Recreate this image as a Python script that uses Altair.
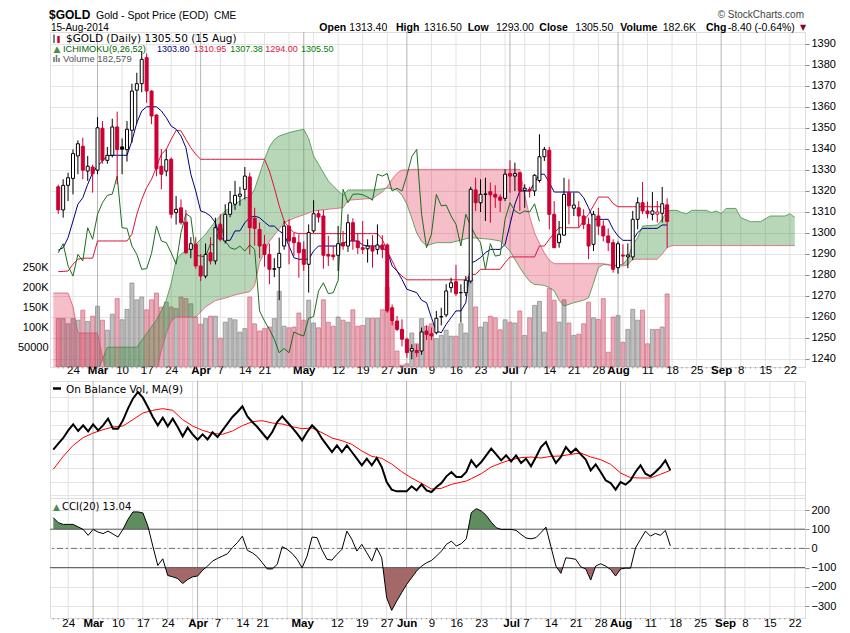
import json
import altair as alt
import pandas as pd

# ------------------------------------------------------------------ data
# trading days Feb 19 2014 (day 0) ... Aug 15 2014 (day 124); future days for the cloud up to day 150
opens = [1322, 1311, 1322.7, 1326, 1336.7, 1341.3, 1329.5, 1331.4, 1329.9, 1349.9,
         1334.6, 1337, 1350.5, 1341, 1339.7, 1348.9, 1368, 1371.1, 1383.5, 1367.6,
         1356.2, 1331.8, 1329.5, 1335.1, 1309.7, 1312, 1305.2, 1292.2, 1294.6, 1284.3,
         1279.5, 1290.6, 1286.7, 1304.1, 1296.2, 1308.9, 1313.7, 1317.5, 1320.8, 1326.7,
         1307, 1301.7, 1294.6, 1289.8, 1282.7, 1283.5, 1293.8, 1303.3, 1297.8, 1295.4,
         1292.2, 1285.1, 1301, 1309.2, 1308.1, 1289.8, 1289.5, 1289.4, 1295.4, 1293.8,
         1304.9, 1296.2, 1293, 1292.5, 1293.8, 1292.2, 1294.3, 1294.3, 1264.4, 1258.1,
         1254.1, 1249.4, 1243.8, 1244.1, 1243.8, 1253.3, 1252, 1252.5, 1260, 1261,
         1274, 1276.8, 1271.6, 1271.6, 1277.1, 1320.5, 1314.4, 1318.4, 1319.7, 1318.4,
         1317.1, 1316.5, 1328.3, 1327.1, 1328.7, 1320.3, 1320.8, 1320, 1325, 1336.3,
         1339.4, 1308.9, 1295.4, 1299, 1319.2, 1311.8, 1312, 1308.1, 1304.1, 1294.6,
         1308.1, 1303.3, 1298.6, 1295.4, 1283.5, 1289.5, 1288.6, 1288.6, 1306.5, 1314.4,
         1310.5, 1308.9, 1309, 1309.4, 1313.4]
highs = [1323, 1325.6, 1328.7, 1339.8, 1344.1, 1345.4, 1336.7, 1332.5, 1355.2, 1353.3,
         1341, 1354.4, 1357.8, 1345, 1353.3, 1371.1, 1376.3, 1386.7, 1385.5, 1368,
         1356.5, 1340, 1339.8, 1336, 1317.6, 1316, 1311, 1298, 1298, 1290,
         1295, 1298, 1307.3, 1309, 1313.7, 1320, 1324.8, 1322, 1331.4, 1328.7,
         1312, 1305, 1299, 1295, 1288, 1297.8, 1305.7, 1306.5, 1300, 1299.4,
         1296, 1304.1, 1315.6, 1311, 1311, 1298.6, 1294, 1303.3, 1301, 1308.9,
         1307, 1300, 1305.7, 1297, 1299, 1304.1, 1299, 1295, 1266, 1260.5,
         1258.9, 1250.2, 1247, 1247, 1255, 1256, 1255, 1262.9, 1264.4, 1275.6,
         1278.7, 1284.8, 1275.6, 1279.5, 1322, 1326.3, 1325.6, 1326.3, 1324, 1322.7,
         1318.4, 1330.3, 1334.6, 1333.5, 1328.7, 1323.2, 1322, 1328, 1347, 1341,
         1341, 1315.2, 1305.7, 1326.3, 1325.6, 1319.2, 1315.2, 1311.3, 1307.3, 1310.5,
         1312, 1306, 1302.2, 1297, 1296, 1294.6, 1295, 1310.5, 1317, 1324.3,
         1315, 1319.5, 1315.2, 1321.9, 1316.5]
lows = [1309, 1307.3, 1315.2, 1318.4, 1328, 1325.6, 1324.8, 1319.2, 1328, 1333,
        1333, 1336, 1323.2, 1328, 1334, 1343, 1352, 1367, 1362, 1351.8,
        1327, 1320.8, 1327, 1307, 1304, 1304, 1290, 1288, 1283, 1277.1,
        1278.4, 1285, 1285, 1296, 1295, 1307.5, 1311, 1313, 1316, 1289.8,
        1294, 1288, 1284, 1275.6, 1279, 1268, 1292, 1285.1, 1289, 1278.7,
        1282, 1271.6, 1300, 1305, 1283, 1284.3, 1287, 1281.9, 1292, 1291,
        1292, 1290, 1290, 1285.9, 1283.5, 1289.8, 1288, 1262, 1256, 1253.3,
        1246, 1240.6, 1239.9, 1241, 1242, 1249, 1249, 1251.7, 1256, 1260,
        1271.6, 1270, 1257.3, 1270, 1276, 1310.5, 1310, 1305.7, 1304.9, 1312,
        1310, 1315.2, 1319.2, 1320, 1310.5, 1312, 1316.9, 1317.6, 1324, 1334.3,
        1301.8, 1293, 1293, 1298.6, 1304.1, 1308.1, 1302.5, 1301.8, 1287.5, 1291.4,
        1299, 1296, 1291.4, 1281.1, 1280.6, 1285, 1283.2, 1287, 1301.8, 1309,
        1307, 1306, 1305, 1305, 1293]
closes = [1311, 1322.7, 1326.3, 1337.8, 1342.5, 1329.9, 1331.8, 1328.2, 1350.1, 1334.6,
          1337, 1350.5, 1339.7, 1339.9, 1349.4, 1367.6, 1371.1, 1382.7, 1367.6, 1355.7,
          1330.6, 1328, 1334.9, 1308.9, 1311.3, 1304.9, 1290.6, 1294.9, 1284.3, 1279.5,
          1289.8, 1286.7, 1302.5, 1297, 1308.9, 1314.4, 1317.9, 1318.5, 1327.1, 1302.5,
          1302.2, 1293.8, 1289.8, 1282.7, 1283, 1290.3, 1303.3, 1296.2, 1295.4, 1290.6,
          1285.1, 1300.2, 1309.2, 1307.6, 1289.4, 1289, 1288.7, 1294.9, 1293.8, 1304.9,
          1296.2, 1293, 1292.2, 1293.8, 1291.4, 1294.3, 1292.2, 1262.9, 1258.1, 1254.1,
          1249.4, 1243, 1245, 1243, 1252.9, 1251.7, 1251, 1259.4, 1260.2, 1272.4,
          1276.3, 1271.1, 1271.6, 1277.5, 1320.8, 1314.4, 1318.4, 1318.6, 1318.2, 1317.1,
          1315.6, 1328, 1327.1, 1328.3, 1320, 1321.3, 1320, 1327.5, 1336.3, 1339.8,
          1308.9, 1293, 1299.4, 1318.4, 1312.9, 1313.3, 1308.1, 1304.1, 1293.8, 1308.9,
          1303.3, 1298.6, 1295.4, 1282.7, 1294.9, 1289, 1289.5, 1306.5, 1314.4, 1310.5,
          1309.2, 1310.5, 1310, 1313.9, 1305.5]
volumes_k = [121, 121, 108, 121, 117, 142, 114, 127, 152, 117,
             92, 132, 171, 118, 144, 210, 168, 175, 143, 168,
             185, 150, 162, 150, 146, 175, 171, 158, 125, 107,
             121, 127, 127, 72, 112, 121, 118, 87, 96, 175,
             108, 90, 96, 100, 121, 189, 102, 98, 100, 135,
             117, 167, 110, 98, 168, 112, 102, 125, 117, 112,
             143, 102, 104, 122, 122, 122, 143, 200, 112, 40,
             5, 8, 85, 58, 121, 102, 108, 71, 79, 92,
             77, 77, 108, 85, 221, 150, 100, 112, 127, 123,
             93, 118, 112, 110, 140, 79, 123, 154, 164, 87,
             196, 167, 112, 168, 110, 79, 82, 108, 162, 123,
             119, 171, 37, 125, 129, 62, 94, 144, 117, 142,
             58, 94, 94, 100, 182.6]
tenkan = [1291.8, 1293, 1297.8, 1305.7, 1313.7, 1316.8, 1323.2, 1328.7, 1331.9, 1334.3,
          1336.7, 1337, 1337, 1337, 1337, 1343.8, 1352.5, 1358.1, 1360.1, 1360.1,
          1360.1, 1358.1, 1354.9, 1350.9, 1349.4, 1346.2, 1340.6, 1328, 1320, 1310.5,
          1309.7, 1308.1, 1304.9, 1297.8, 1296.5, 1296.5, 1301, 1301, 1304.9, 1307.3,
          1308, 1307.3, 1305.2, 1303.3, 1303.3, 1301, 1299.4, 1293.8, 1288.2, 1287.5,
          1287.5, 1287.5, 1291.4, 1293.8, 1293.8, 1293.8, 1293.8, 1293.8, 1295, 1296.2,
          1296.2, 1296.2, 1294.3, 1293.8, 1293.8, 1293.8, 1293, 1291.4, 1284.3, 1281.9,
          1277.9, 1273.2, 1272.4, 1271.6, 1268, 1266.8, 1259.7, 1253.3, 1252.5, 1256.5,
          1259.7, 1262.9, 1262.9, 1266.8, 1285.6, 1286.7, 1288.3, 1290.6, 1292.2, 1292.2,
          1292.2, 1294.6, 1304.1, 1313.7, 1320, 1320, 1320, 1324, 1328, 1328,
          1324, 1319.5, 1319.5, 1319.5, 1319.5, 1319.5, 1319.5, 1316.8, 1312, 1306.5,
          1306.5, 1306.5, 1306.5, 1301.8, 1298.6, 1296.5, 1296.5, 1296.5, 1300.2, 1302.2,
          1302.2, 1302.2, 1302.2, 1303.8, 1303.8]
kijun = [1281.6, 1281.7, 1281.9, 1285.1, 1287.5, 1288, 1288, 1288, 1296.2, 1296.2,
         1296.2, 1296.2, 1296.2, 1296.2, 1296.2, 1299.4, 1308.9, 1316, 1321.6, 1325.6,
         1331.4, 1337.5, 1339.8, 1344.6, 1348.9, 1348.6, 1344.6, 1340.6, 1337.5, 1335.1,
         1335.1, 1335.1, 1335.1, 1335.1, 1335.1, 1335.1, 1335.1, 1335.1, 1335.1, 1335.1,
         1335.1, 1335.1, 1335.1, 1329.5, 1321.6, 1312.9, 1305.7, 1302.5, 1300.2, 1299.7,
         1299.7, 1299.7, 1299.7, 1299.7, 1299.7, 1299.7, 1299.7, 1299.7, 1299.7, 1299.7,
         1299.7, 1299.7, 1299.7, 1299.7, 1299.7, 1299.7, 1297, 1291.4, 1286.7, 1281.9,
         1279.5, 1277.7, 1277.7, 1277.7, 1277.7, 1277.7, 1277.7, 1277.7, 1277.7, 1277.7,
         1277.7, 1277.7, 1277.7, 1277.7, 1280.3, 1280.3, 1282.7, 1282.7, 1282.7, 1282.7,
         1282.7, 1285.9, 1288.6, 1288.6, 1288.6, 1288.6, 1288.6, 1288.6, 1293.8, 1293.8,
         1297, 1300, 1302.5, 1302.5, 1302.5, 1302.5, 1302.5, 1305.7, 1308.9, 1313,
         1317.1, 1317.1, 1317.1, 1314, 1312.5, 1312.5, 1312.5, 1312.5, 1312.5, 1312.5,
         1312.5, 1312.5, 1312.5, 1312.5, 1311]
cloud_day = [-1, 2, 3, 4, 8, 10, 16, 18, 20, 21,
             22, 23, 24, 25, 28, 30, 32, 34, 36, 38,
             39, 40, 41, 42, 43, 44, 45, 46, 47, 48,
             50, 51, 52, 55, 57, 58, 59, 64, 66, 67,
             68, 69, 70, 71, 72, 73, 74, 75, 77, 80,
             84, 88, 90, 92, 94, 95, 96, 97, 98, 99,
             100, 101, 102, 103, 105, 107, 108, 109, 110, 111,
             112, 113, 115, 116, 117, 118, 119, 122, 123, 124,
             125, 126, 127, 128, 129, 132, 133, 134, 135, 136,
             138, 139, 141, 143, 145, 148, 149, 150]
span_a = [1226, 1228, 1229, 1230, 1234, 1245.6, 1245.6, 1252.2, 1258.6, 1263,
          1268, 1276, 1287.1, 1290, 1294.6, 1299.4, 1305.7, 1310.5, 1313.7, 1316.8,
          1317, 1321, 1328, 1335, 1341, 1344.5, 1346.2, 1347, 1347.8, 1348.4,
          1349.4, 1345, 1336.7, 1324.8, 1320, 1318, 1320.5, 1320.5, 1321, 1321.5,
          1321, 1320.5, 1318, 1313.7, 1307, 1300, 1296, 1294, 1295.4, 1295.4,
          1297.8, 1297, 1296.2, 1291.4, 1283.5, 1280, 1277, 1275.5, 1275.3, 1275,
          1274, 1272.5, 1268, 1265.2, 1266.8, 1268, 1269.2, 1276, 1283.5, 1285,
          1284.8, 1284.6, 1285, 1287.9, 1294.6, 1297.8, 1303.3, 1303.8, 1306.5, 1310.5,
          1310.8, 1310.8, 1309.7, 1309.2, 1310.8, 1310.8, 1309.7, 1310.5, 1309.2, 1311.7,
          1311.7, 1307.3, 1305.4, 1305.4, 1308.1, 1308.1, 1309.2, 1307.4]
span_b = [1271.4, 1271.4, 1265, 1252.4, 1252.4, 1230, 1230, 1231, 1234, 1244,
          1252, 1258, 1259.9, 1259.9, 1259.9, 1264.8, 1267.8, 1269, 1270.5, 1271.6,
          1272, 1275, 1286, 1291, 1296, 1299, 1302, 1304.9, 1306, 1307,
          1308.7, 1309.5, 1310.5, 1311.3, 1311.8, 1312, 1315.6, 1316.5, 1319.5, 1322,
          1325.6, 1328.5, 1330, 1330, 1330.3, 1330.3, 1330.3, 1330.3, 1330.3, 1330.3,
          1330.3, 1330.3, 1330.3, 1330.3, 1330.3, 1318, 1308, 1300, 1295, 1290.5,
          1287, 1285.4, 1285.4, 1285.4, 1285.4, 1285.4, 1285.4, 1285.4, 1285.4, 1285.4,
          1285, 1284.3, 1284.3, 1284.8, 1287.5, 1287.5, 1287.5, 1287.5, 1290, 1293,
          1294, 1294, 1294, 1294, 1294, 1294, 1294, 1294, 1294, 1294,
          1294, 1294, 1294, 1294, 1294, 1294, 1294, 1294]
obv = [994, 1120, 1239, 1400, 1526, 1386, 1505, 1379, 1526, 1400,
       1505, 1645, 1435, 1435, 1610, 1855, 2065, 2205, 2086, 1890,
       1680, 1505, 1666, 1484, 1645, 1470, 1274, 1456, 1316, 1204,
       1316, 1211, 1358, 1260, 1400, 1540, 1680, 1785, 1904, 1694,
       1575, 1470, 1344, 1218, 1365, 1575, 1694, 1575, 1456, 1330,
       1190, 1365, 1505, 1400, 1225, 1085, 945, 1085, 945, 1085,
       945, 805, 665, 805, 665, 819, 630, 315, 154, 119,
       119, 119, 224, 140, 266, 140, 105, 210, 294, 434,
       525, 420, 420, 525, 770, 630, 735, 875, 1015, 896,
       770, 875, 749, 875, 714, 805, 644, 840, 1050, 1155,
       910, 714, 840, 1050, 924, 1015, 896, 784, 560, 686,
       525, 350, 294, 154, 315, 259, 350, 525, 665, 490,
       434, 525, 630, 770, 560]
obv_ma_day = [0, 2, 4, 6, 8, 10, 12, 14, 16, 18, 20, 22, 24, 26, 28, 30, 32, 34, 36, 38,
              40, 42, 44, 46, 48, 50, 52, 54, 56, 58, 60, 62, 64, 66, 68, 70, 72, 74, 76, 78,
              80, 83, 84, 86, 88, 90, 92, 94, 96, 98, 100, 102, 104, 106, 108, 110, 112, 114,
              116, 118, 120, 122, 124]
obv_ma = [581, 854, 1085, 1246, 1344, 1414, 1470, 1491, 1624, 1764,
          1820, 1855, 1820, 1624, 1491, 1400, 1337, 1316, 1386, 1498,
          1582, 1603, 1554, 1533, 1477, 1435, 1449, 1351, 1239, 1183,
          1106, 966, 854, 812, 693, 532, 399, 287, 168, 182,
          266, 336, 385, 490, 630, 714, 784, 826, 840, 819,
          854, 861, 896, 924, 840, 784, 686, 504, 406, 399,
          399, 476, 560]
cci = [160, 134, 125, 125, 125, 112, 99, 68, 99, 85,
       77, 90, 75, 59, 99, 151, 190, 190, 185, 117,
       12, -89, -54, -141, -148, -157, -183, -162, -148, -144,
       -114, -92, -66, -52, -40, -28, 5, 30, 64, -10,
       -23, -43, -75, -107, -107, -83, 9, -5, -26, -57,
       -101, -40, 59, 56, -8, -57, -61, -31, -5, 90,
       47, -14, 21, -23, -66, 3, -49, -257, -323, -275,
       -231, -188, -153, -118, -92, -75, -63, -40, -14, 21,
       38, 12, 25, 50, 186, 207, 195, 172, 137, 108,
       99, 99, 99, 94, 73, 54, 50, 56, 82, 111,
       9, -92, -130, -49, -52, -57, -96, -107, -165, -92,
       -80, -92, -110, -144, -107, -103, -103, 3, 47, 90,
       64, 78, 68, 94, 13]
tick_days = [3, 8, 13, 18, 23, 29, 33, 38, 42, 50, 57, 62, 67, 71, 76, 81, 86, 92, 95,
             100, 105, 110, 114, 120, 125, 130, 135, 139, 144, 149]
tick_labels = ["24", "Mar", "10", "17", "24", "Apr", "7", "14", "21", "May", "12", "19",
               "27", "Jun", "9", "16", "23", "Jul", "7", "14", "21", "28", "Aug", "11",
               "18", "25", "Sep", "8", "15", "22"]
month_days = [8, 29, 50, 71, 92, 114, 135]
week_days = [3, 13, 18, 23, 28, 33, 38, 42, 47, 52, 57, 62, 67, 76, 81, 86, 91, 95, 100,
             105, 110, 115, 120, 125, 130, 139, 144, 149]
price_ticks = [1240, 1250, 1260, 1270, 1280, 1290, 1300, 1310, 1320, 1330, 1340, 1350,
               1360, 1370, 1380, 1390]
vol_ticks = [50, 100, 150, 200, 250]
cci_ticks = [-300, -200, -100, 0, 100, 200]
obv_grid = [35, 315, 616, 910, 1211, 1505, 1799, 2100]
n_future = 26

# ------------------------------------------------------------------ layout / style
W, H_MAIN, H_OBV, H_CCI = 755, 335, 117, 120
RED, BLACK = "#cc0033", "#000000"
SANS, VERD = "Liberation Sans", "DejaVu Sans"

n = len(closes)
assert all(len(s) == n for s in [opens, highs, lows, volumes_k, tenkan, kijun, obv, cci])
assert len(cloud_day) == len(span_a) == len(span_b)
assert len(obv_ma_day) == len(obv_ma)

rows = []
for k in range(n):
    ref = closes[k - 1] if k > 0 else opens[0]
    col = RED if closes[k] < ref else BLACK
    rows.append(dict(i=k, open=opens[k], high=highs[k], low=lows[k], close=closes[k],
                     vol=volumes_k[k], col=col,
                     fill="#ffffff" if closes[k] >= opens[k] else col,
                     vfill="#d05a70" if col == RED else "#808080",
                     vstroke="#d46a82" if col == RED else "#8a8a8a"))
cdf = pd.DataFrame(rows)


def with_crossings(xs, a, b):
    out = []
    for k in range(len(xs)):
        if k > 0:
            d0 = a[k - 1] - b[k - 1]
            d1 = a[k] - b[k]
            if d0 * d1 < 0:
                t = d0 / (d0 - d1)
                out.append((xs[k - 1] + t * (xs[k] - xs[k - 1]),
                            a[k - 1] + t * (a[k] - a[k - 1]),
                            a[k - 1] + t * (a[k] - a[k - 1])))
        out.append((xs[k], a[k], b[k]))
    df = pd.DataFrame(out, columns=["i", "a", "b"])
    df["lo"] = df[["a", "b"]].min(axis=1)
    df["hi"] = df[["a", "b"]].max(axis=1)
    return df


cloud = with_crossings(cloud_day, span_a, span_b)
days = list(range(n))
cci_up = with_crossings(days, cci, [100] * n)
cci_dn = with_crossings(days, cci, [-100] * n)

tenkan_df = pd.DataFrame({"i": days, "v": tenkan})
kijun_df = pd.DataFrame({"i": days, "v": kijun})
chikou_df = pd.DataFrame({"i": [k - 26 for k in range(26, n)], "v": closes[26:]})
obv_df = pd.DataFrame({"i": days, "v": obv})
obv_ma_df = pd.DataFrame({"i": obv_ma_day, "v": obv_ma})
cci_df = pd.DataFrame({"i": days, "v": cci})
vgrid_df = pd.DataFrame({"i": week_days + month_days,
                         "kind": ["w"] * len(week_days) + ["m"] * len(month_days)})
dayticks_df = pd.DataFrame({"i": list(range(0, n + n_future))})
one = pd.DataFrame({"k": [0]})

xs = alt.Scale(domain=[-0.663, 151.06], nice=False, zero=False)
ps = alt.Scale(domain=[1236.19, 1395.71], nice=False, zero=False)
vs = alt.Scale(domain=[0, 837.5], nice=False, zero=False)
os_ = alt.Scale(domain=[-21, 2436], nice=False, zero=False)
cs = alt.Scale(domain=[-362.5, 262.5], nice=False, zero=False)

LBL_EXPR = f"{json.dumps(tick_labels)}[indexof({json.dumps(tick_days)}, datum.value)]"
BOLD = {"condition": {"test": f"indexof({json.dumps(month_days)}, datum.value) >= 0",
                      "value": "bold"}, "value": "normal"}


def x_axis(pad):
    return alt.Axis(values=tick_days, labelExpr=LBL_EXPR, labelFontWeight=BOLD,
                    labelFontSize=11.5, labelFont=SANS, labelColor="#000", labelPadding=pad,
                    ticks=False, domain=False, grid=False, labelOverlap=False,
                    labelFlush=False, title=None)


X_MAIN = alt.X("i:Q", scale=xs, axis=x_axis(-3))
X_NONE = alt.X("i:Q", scale=xs, axis=None)
X_CCI = alt.X("i:Q", scale=xs, axis=x_axis(-1))

price_axis = alt.Axis(orient="right", values=price_ticks, format="d", grid=True,
                      gridColor="#e4e4e4", tickSize=4, tickColor="#888", domain=False,
                      labelPadding=2, labelFontSize=11, labelFont=SANS, labelColor="#000",
                      title=None)
vol_axis = alt.Axis(orient="left", values=vol_ticks,
                    labelExpr="datum.value == 50 ? '50000' : datum.value + 'K'",
                    grid=False, ticks=False, domain=False, labelPadding=2, labelFontSize=11,
                    labelFont=SANS, labelColor="#000", title=None)
obv_axis = alt.Axis(values=obv_grid, labels=False, ticks=False, domain=False, grid=True,
                    gridColor="#e4e4e4", title=None)
cci_axis = alt.Axis(orient="right", values=cci_ticks, format="d", grid=True,
                    gridColor="#e4e4e4", tickSize=4, tickColor="#888", domain=False,
                    labelPadding=2, labelFontSize=11, labelFont=SANS, labelColor="#000",
                    title=None)


def txt(s, x, y, color="#000", size=10.5, weight="normal", font=SANS, align="left"):
    return alt.Chart(one).mark_text(text=s, color=color, fontSize=size, fontWeight=weight,
                                    font=font, align=align, baseline="alphabetic").encode(
        x=alt.value(x), y=alt.value(y))


def seg(x1, x2, y1, y2, color, width):
    return alt.Chart(one).mark_rule(color=color, strokeWidth=width).encode(
        x=alt.value(x1), x2=alt.value(x2), y=alt.value(y1), y2=alt.value(y2))


def vgrid(X, h):
    return alt.Chart(vgrid_df).mark_rule(strokeWidth=1).encode(
        x=X, y=alt.value(0), y2=alt.value(h),
        color=alt.Color("kind:N", scale=alt.Scale(domain=["w", "m"],
                                                  range=["#e2e2e2", "#b4b4b4"]), legend=None))


def dayticks(X, h):
    return alt.Chart(dayticks_df).mark_rule(color="#9a9a9a", strokeWidth=1).encode(
        x=X, y=alt.value(h), y2=alt.value(h + 1.5))


# ------------------------------------------------------------------ main panel
vol_layer = alt.Chart(cdf).mark_bar(size=4, clip=True, strokeWidth=0.8, fillOpacity=0.5,
                                    strokeOpacity=0.9).encode(
    x=X_MAIN, y=alt.Y("vol:Q", scale=vs, axis=vol_axis, stack=None),
    fill=alt.Fill("vfill:N", scale=None), stroke=alt.Stroke("vstroke:N", scale=None))

PY = dict(scale=ps, axis=price_axis)
cloud_green = alt.Chart(cloud).mark_area(clip=True, color="#2e8b2e", fillOpacity=0.34).encode(
    x=X_MAIN, y=alt.Y("a:Q", **PY), y2="lo:Q")
cloud_red = alt.Chart(cloud).mark_area(clip=True, color="#dc143c", fillOpacity=0.28).encode(
    x=X_MAIN, y=alt.Y("b:Q", **PY), y2="lo:Q")
line_a = alt.Chart(cloud).mark_line(clip=True, color="#3c8a3c", strokeWidth=1, opacity=0.75).encode(
    x=X_MAIN, y=alt.Y("a:Q", **PY))
line_b = alt.Chart(cloud).mark_line(clip=True, color="#e0506e", strokeWidth=1, opacity=0.75).encode(
    x=X_MAIN, y=alt.Y("b:Q", **PY))
kijun_line = alt.Chart(kijun_df).mark_line(clip=True, color="#dc143c", strokeWidth=1).encode(
    x=X_MAIN, y=alt.Y("v:Q", **PY))
tenkan_line = alt.Chart(tenkan_df).mark_line(clip=True, color="#000080", strokeWidth=1).encode(
    x=X_MAIN, y=alt.Y("v:Q", **PY))
chikou_line = alt.Chart(chikou_df).mark_line(clip=True, color="#1e6b1e", strokeWidth=1).encode(
    x=X_MAIN, y=alt.Y("v:Q", **PY))
wicks = alt.Chart(cdf).mark_rule(clip=True, strokeWidth=1).encode(
    x=X_MAIN, y=alt.Y("low:Q", **PY), y2="high:Q", color=alt.Color("col:N", scale=None))
bodies = alt.Chart(cdf).mark_bar(size=3, clip=True, strokeWidth=1).encode(
    x=X_MAIN, y=alt.Y("open:Q", **PY), y2="close:Q",
    fill=alt.Fill("fill:N", scale=None), stroke=alt.Stroke("col:N", scale=None))

price_group = alt.layer(cloud_red, cloud_green, line_a, line_b, kijun_line, tenkan_line,
                        chikou_line, wicks, bodies)

HT = -13.5  # baseline of the title row, relative to the plot top
HB = -1.5   # baseline of the second header row
header = [
    txt("$GOLD", -1, HT, size=12, weight="bold"),
    txt("Gold - Spot Price (EOD)", 46, HT, size=10.5),
    txt("CME", 164, HT, size=10),
    txt("15-Aug-2014", 1, HB, size=10),
    txt("Open", 269.3, HB, weight="bold"), txt("1313.40", 299.3, HB),
    txt("High", 346, HB, weight="bold"), txt("1316.50", 374, HB),
    txt("Low", 417.7, HB, weight="bold"), txt("1293.00", 446, HB),
    txt("Close", 489.3, HB, weight="bold"), txt("1305.50", 525.3, HB),
    txt("Volume", 570.3, HB, weight="bold"), txt("182.6K", 612.7, HB),
    txt("Chg", 656, HB, weight="bold"), txt("-8.40 (-0.64%)", 677.7, HB),
    txt("\u25BC", 753, HB - 1, color="#8b0028", size=8, font=VERD, align="center"),
    txt("\u00A9 StockCharts.com", 667.7, -14.5, color="#444", size=10),
]
legend_main = [
    seg(4, 4, 2.5, 11, BLACK, 1), seg(8.5, 8.5, 4, 11, RED, 2.5),
    txt("$GOLD (Daily) 1305.50 (15 Aug)", 16, 9.5, size=10.5, font=VERD),
    txt("\u25B2", 7, 20, color="#4c8c4c", size=9, font=VERD, align="center"),
    txt("ICHIMOKU(9,26,52)", 13, 19.5, color="#006400", size=9.2),
    txt("1303.80", 107, 19.5, color="#000080", size=9),
    txt("1310.95", 143.7, 19.5, color="#dc143c", size=9),
    txt("1307.38", 180.3, 19.5, color="#008000", size=9),
    txt("1294.00", 215.3, 19.5, color="#dc143c", size=9),
    txt("1305.50", 251, 19.5, color="#008000", size=9),
    seg(4, 4, 25, 30, "#777", 1.6), seg(6.5, 6.5, 23, 30, "#777", 1.6),
    seg(9, 9, 26, 30, "#777", 1.6),
    txt("Volume 182,579", 13, 29.5, color="#555", size=9.5),
]
pin = seg(-40.5, -40, -22.5, -22.5, "#ffffff", 0.5)

main = alt.layer(vgrid(X_MAIN, H_MAIN), dayticks(X_MAIN, H_MAIN), vol_layer, price_group,
                 *header, *legend_main, pin).resolve_scale(y="independent").properties(
    width=W, height=H_MAIN)

# ------------------------------------------------------------------ OBV panel
obv_line = alt.Chart(obv_df).mark_line(clip=True, color="#000", strokeWidth=2).encode(
    x=X_NONE, y=alt.Y("v:Q", scale=os_, axis=obv_axis))
obv_ma_line = alt.Chart(obv_ma_df).mark_line(clip=True, color="#ff0000", strokeWidth=1).encode(
    x=X_NONE, y=alt.Y("v:Q", scale=os_, axis=obv_axis))
obv_panel = alt.layer(vgrid(X_NONE, H_OBV), obv_ma_line, obv_line,
                      seg(3, 11, 7.5, 7.5, BLACK, 2.5),
                      txt("On Balance Vol, MA(9)", 16, 11.5, size=10.5, font=VERD)).properties(
    width=W, height=H_OBV)

# ------------------------------------------------------------------ CCI panel
CY = dict(scale=cs, axis=cci_axis)
cci_green = alt.Chart(cci_up).mark_area(clip=True, color="#5f8d5f").encode(
    x=X_CCI, y=alt.Y("a:Q", **CY), y2="lo:Q")
cci_red = alt.Chart(cci_dn).mark_area(clip=True, color="#a46868").encode(
    x=X_CCI, y=alt.Y("a:Q", **CY), y2="hi:Q")
cci_refs = alt.Chart(pd.DataFrame({"v": [100, -100]})).mark_rule(color="#5a5a5a", strokeWidth=1).encode(
    y=alt.Y("v:Q", **CY))
cci_zero = alt.Chart(pd.DataFrame({"v": [0]})).mark_rule(color="#707070", strokeWidth=1,
                                                        strokeDash=[6, 3, 2, 3]).encode(
    y=alt.Y("v:Q", **CY))
cci_line = alt.Chart(cci_df).mark_line(clip=True, color="#000", strokeWidth=1).encode(
    x=X_CCI, y=alt.Y("v:Q", **CY))
cci_panel = alt.layer(vgrid(X_CCI, H_CCI), dayticks(X_CCI, H_CCI), cci_green, cci_red,
                      cci_refs, cci_zero, cci_line,
                      txt("\u25B2", 6.5, 12, color="#4c8c4c", size=9, font=VERD, align="center"),
                      txt("CCI(20) 13.04", 12, 12, size=10, font=VERD)).properties(
    width=W, height=H_CCI)

lower = alt.vconcat(obv_panel, cci_panel, spacing=0, bounds="flush")
chart = alt.vconcat(main, lower, spacing=14, bounds="flush").properties(
    padding={"left": 0, "top": 0, "right": 4, "bottom": 4}
).configure_view(stroke="#a8a8a8", strokeWidth=1).configure(font=SANS)

chart.save("out.html", embed_options={"renderer": "svg", "actions": False})
